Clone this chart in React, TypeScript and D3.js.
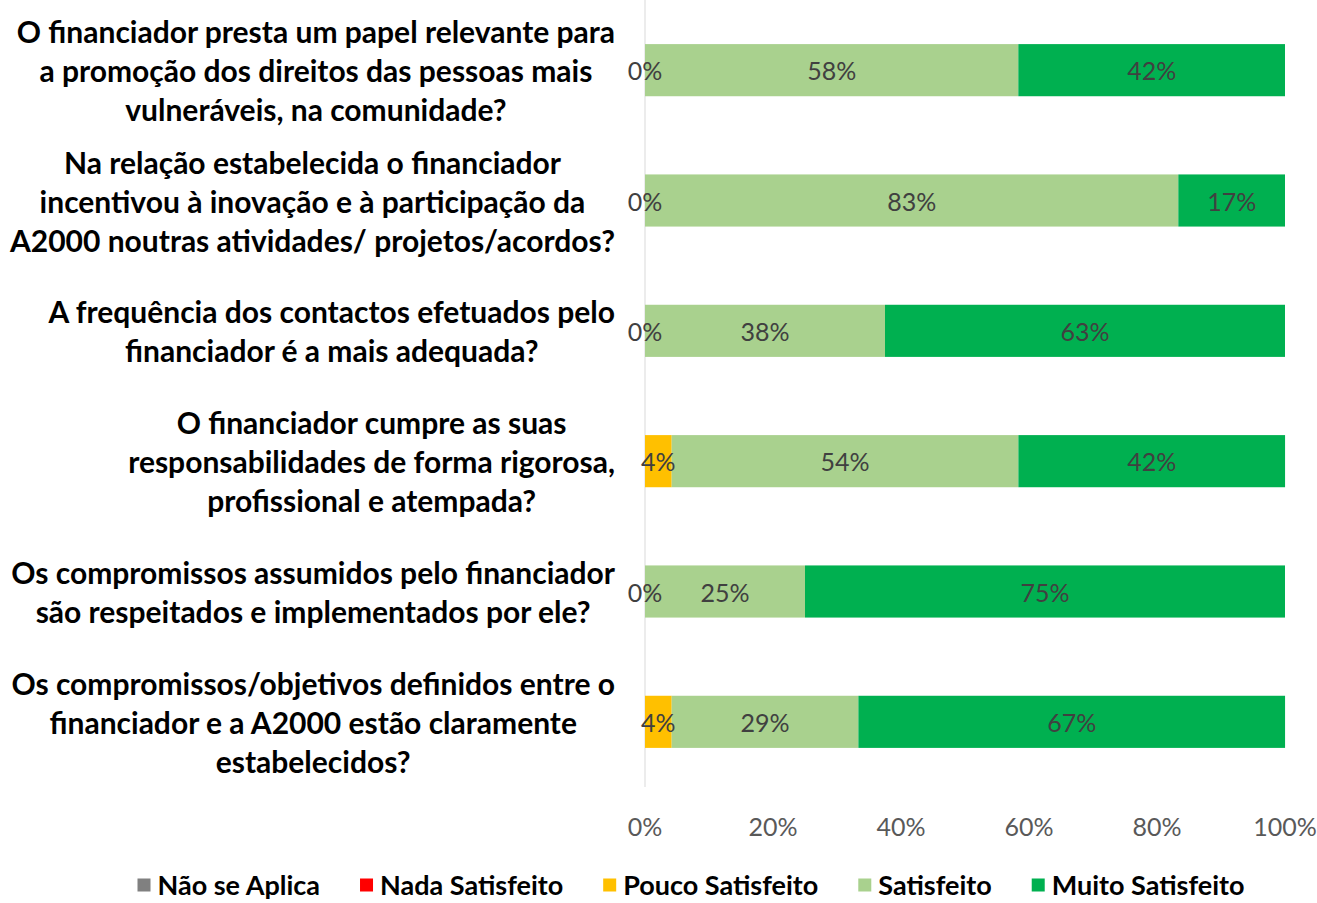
import React, { useRef, useEffect } from 'react';
import * as d3 from 'd3';

// Questions (one entry per wrapped line, as in the original)
const categories = [
    ["O financiador presta um papel relevante para", "a promoção dos direitos das pessoas mais", "vulneráveis, na comunidade?"],
    ["Na relação estabelecida o financiador", "incentivou à inovação e à participação da", "A2000 noutras atividades/ projetos/acordos?"],
    ["A frequência dos contactos efetuados pelo", "financiador é a mais adequada?"],
    ["O financiador cumpre as suas", "responsabilidades de forma rigorosa,", "profissional e atempada?"],
    ["Os compromissos assumidos pelo financiador", "são respeitados e implementados por ele?"],
    ["Os compromissos/objetivos definidos entre o", "financiador e a A2000 estão claramente", "estabelecidos?"]
];

const seriesNames = ["Não se Aplica", "Nada Satisfeito", "Pouco Satisfeito", "Satisfeito", "Muito Satisfeito"];
const seriesColors = ["#808080", "#ff0000", "#ffc000", "#a9d18e", "#00b050"];

// percentages per question
const naoSeAplica = [0, 0, 0, 0, 0, 0];
const nadaSatisfeito = [0, 0, 0, 0, 0, 0];
const poucoSatisfeito = [0, 0, 0, 4.17, 0, 4.17];
const satisfeito = [58.33, 83.33, 37.5, 54.17, 25, 29.17];
const muitoSatisfeito = [41.67, 16.67, 62.5, 41.67, 75, 66.67];

const tickValues = [0, 20, 40, 60, 80, 100];

// series whose labels are shown even at 0%
const showZeroLabel = ["Pouco Satisfeito"];

const W = 1317, H = 903;

const App = () => {
    const ref = useRef<SVGSVGElement>(null);

    useEffect(() => {
        const svg = d3.select(ref.current);
        svg.selectAll("*").remove();

        const seriesValues = [naoSeAplica, nadaSatisfeito, poucoSatisfeito, satisfeito, muitoSatisfeito];
        const table = categories.map((c, i) => {
            const row: any = { key: i };
            seriesNames.forEach((s, j) => { row[s] = seriesValues[j][i]; });
            return row;
        });

        const stacked = d3.stack().keys(seriesNames)(table);

        const x = d3.scaleLinear().domain([0, 100]).range([645, 1285]);
        const y = d3.scaleBand<number>()
            .domain(table.map(d => d.key))
            .range([5, 787])
            .paddingInner(0.6)
            .paddingOuter(0.3);

        // vertical axis line
        svg.append("line")
            .attr("x1", x(0)).attr("x2", x(0))
            .attr("y1", y.range()[0] - 5).attr("y2", y.range()[1])
            .attr("stroke", "#d9d9d9").attr("stroke-width", 1);

        // bars
        const layers = svg.append("g").selectAll("g")
            .data(stacked)
            .join("g")
            .attr("fill", (d, i) => seriesColors[i]);

        layers.selectAll("rect")
            .data(d => d)
            .join("rect")
            .attr("x", d => x(d[0]))
            .attr("width", d => x(d[1]) - x(d[0]))
            .attr("y", d => y(d.data.key)!)
            .attr("height", y.bandwidth());

        // data labels
        stacked.forEach(layer => {
            svg.append("g").selectAll("text")
                .data(layer.filter(d => (d[1] - d[0]) > 0 || showZeroLabel.includes(layer.key)))
                .join("text")
                .attr("x", d => x((d[0] + d[1]) / 2))
                .attr("y", d => y(d.data.key)! + y.bandwidth() / 2)
                .attr("text-anchor", "middle")
                .attr("dominant-baseline", "central")
                .attr("font-family", "Lato, sans-serif")
                .attr("font-size", 25)
                .attr("fill", "#404040")
                .text(d => Math.round(d[1] - d[0]) + "%");
        });

        // x tick labels
        svg.append("g").selectAll("text")
            .data(tickValues)
            .join("text")
            .attr("x", d => x(d))
            .attr("y", 826)
            .attr("text-anchor", "middle")
            .attr("dominant-baseline", "central")
            .attr("font-family", "Lato, sans-serif")
            .attr("font-size", 25)
            .attr("fill", "#595959")
            .text(d => d + "%");

        // category labels: block right aligned to the axis, lines centred in the block
        const lineH = 39;
        const labelRight = 615;
        categories.forEach((lines, i) => {
            const g = svg.append("g");
            const cy = y(i)! + y.bandwidth() / 2;
            const texts = g.selectAll("text")
                .data(lines)
                .join("text")
                .attr("y", (d, k) => cy + (k - (lines.length - 1) / 2) * lineH)
                .attr("text-anchor", "middle")
                .attr("dominant-baseline", "central")
                .attr("font-family", "Lato, sans-serif")
                .attr("font-weight", "bold")
                .attr("font-size", 30)
                .attr("fill", "#000")
                .text(d => d);
            let maxW = 0;
            texts.each(function () { maxW = Math.max(maxW, (this as SVGTextElement).getComputedTextLength()); });
            texts.attr("x", labelRight - maxW / 2);
        });

        // legend
        const legend = svg.append("g");
        const sq = 13, gapSq = 7, gapItem = 40;
        let cursor = 0;
        seriesNames.forEach((s, i) => {
            const it = legend.append("g");
            it.append("rect")
                .attr("width", sq).attr("height", sq)
                .attr("y", -sq / 2 + 1)
                .attr("fill", seriesColors[i]);
            const t = it.append("text")
                .attr("x", sq + gapSq)
                .attr("dominant-baseline", "central")
                .attr("font-family", "Lato, sans-serif")
                .attr("font-weight", "bold")
                .attr("font-size", 27)
                .attr("fill", "#000")
                .text(s);
            const w = sq + gapSq + (t.node() as SVGTextElement).getComputedTextLength();
            it.attr("transform", `translate(${cursor},0)`);
            cursor += w + gapItem;
        });
        const total = cursor - gapItem;
        legend.attr("transform", `translate(${691 - total / 2},884)`);
    }, []);

    return (
        <svg ref={ref} width={W} height={H}
            style={{ position: "absolute", left: 0, top: 0, background: "#fff" }} />
    );
};

export default App;
